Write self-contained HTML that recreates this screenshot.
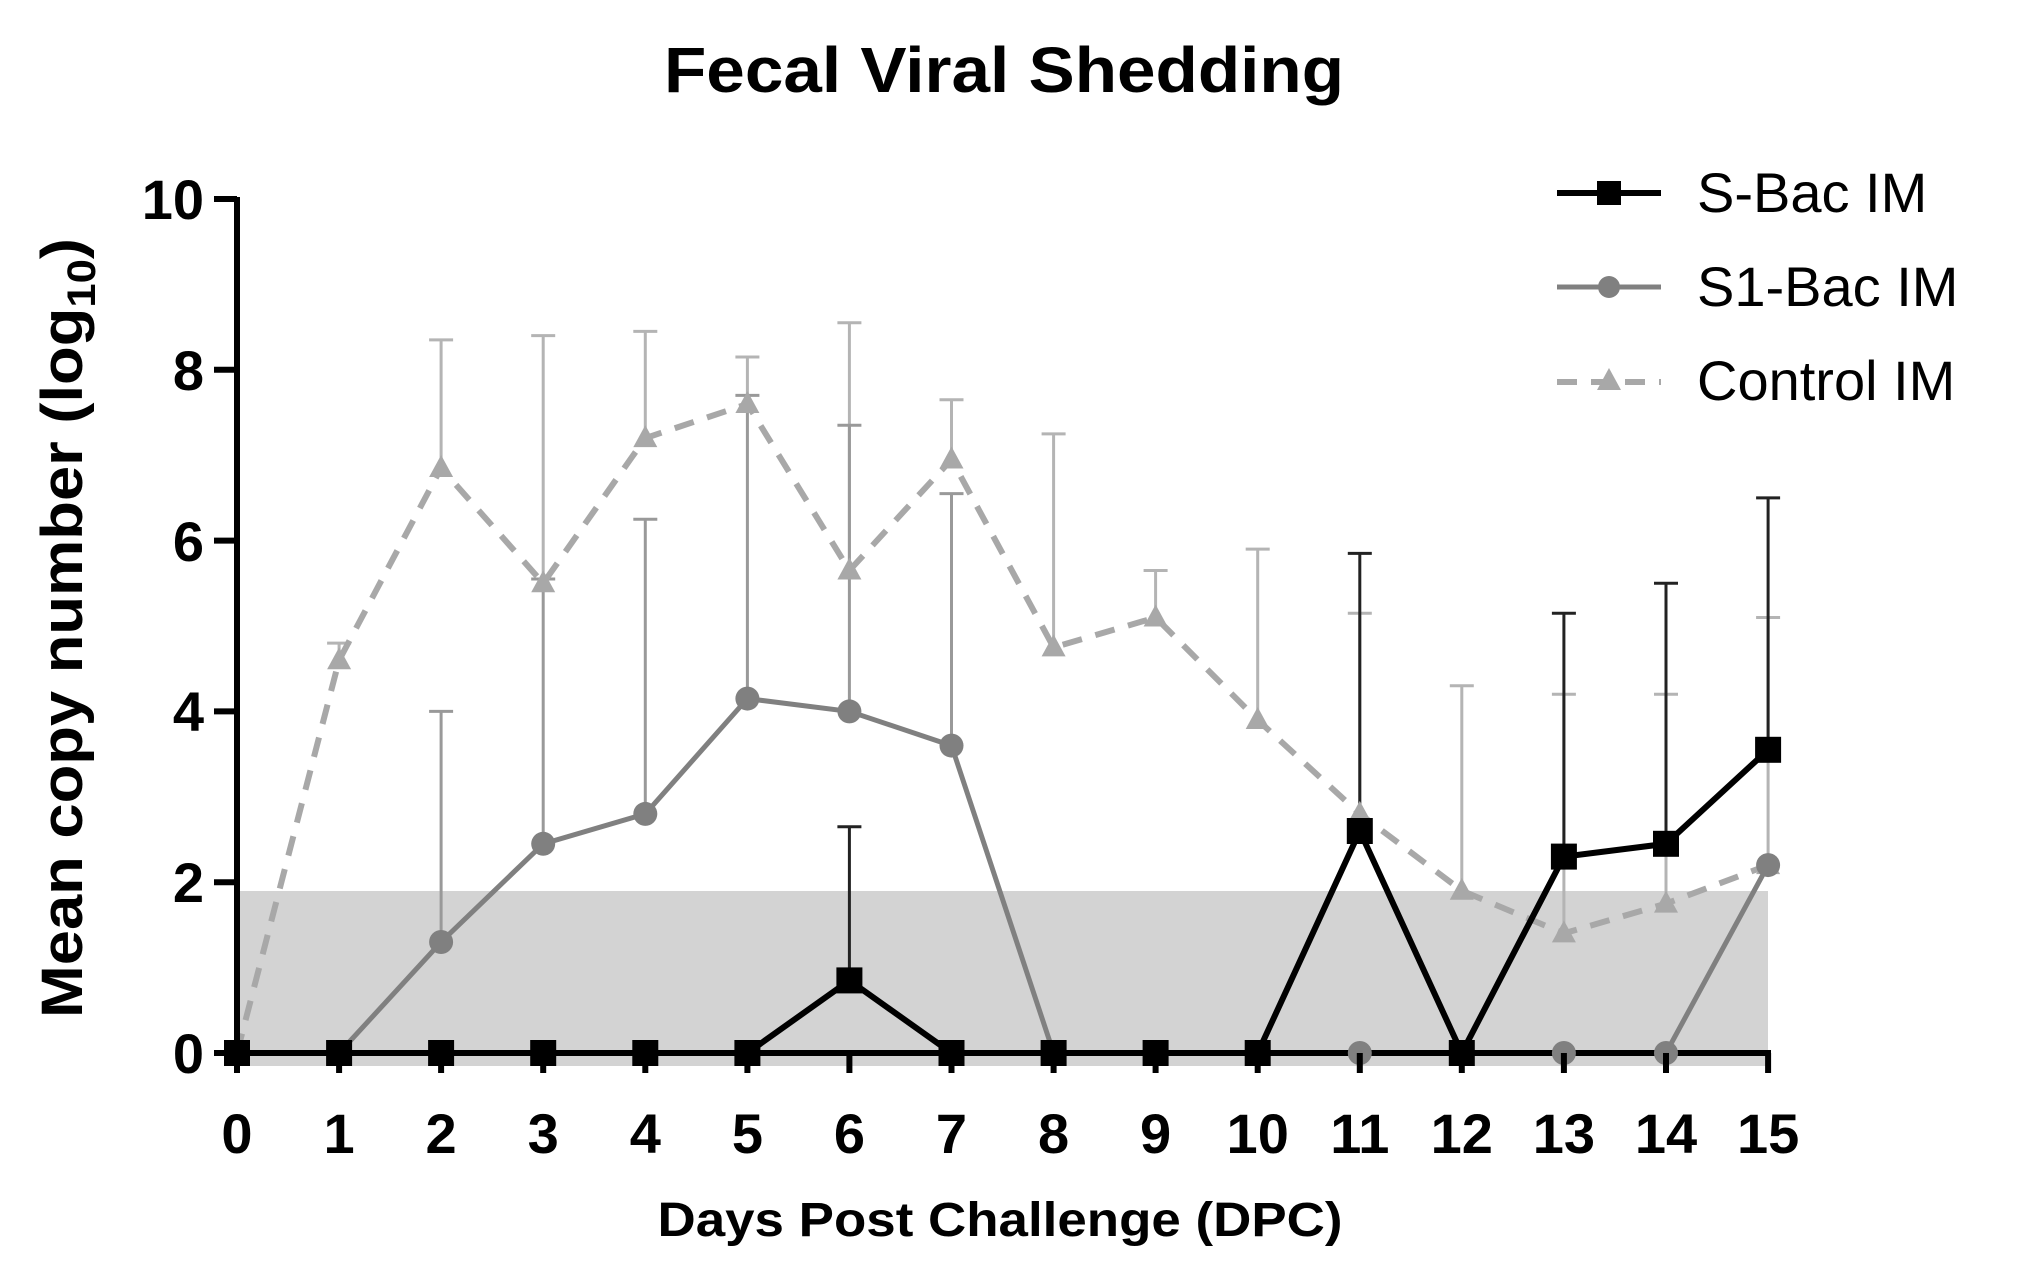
<!DOCTYPE html><html><head><style>body{margin:0;background:#fff}svg{display:block}</style></head><body>
<svg width="2040" height="1269" viewBox="0 0 2040 1269" xmlns="http://www.w3.org/2000/svg" font-family="Liberation Sans, sans-serif">
<rect width="2040" height="1269" fill="#fff"/>
<text x="1004" y="92" font-size="64" font-weight="bold" text-anchor="middle" textLength="680" lengthAdjust="spacingAndGlyphs">Fecal Viral Shedding</text>
<rect x="237" y="891" width="1531" height="175" fill="#d3d3d3"/>

<path fill="none" stroke="#b4b4b4" stroke-width="3" d="
M339.1,660.2V643.1M327.1,643.1H351.1
M441.1,468V339.9M429.1,339.9H453.1
M543.2,583.3V335.6M531.2,335.6H555.2
M645.3,438.1V331.4M633.3,331.4H657.3
M747.4,404V357M735.4,357H759.4
M849.4,570.5V322.8M837.4,322.8H861.4
M951.5,459.5V399.7M939.5,399.7H963.5
M1053.6,647.4V433.9M1041.6,433.9H1065.6
M1155.6,617.5V570.5M1143.6,570.5H1167.6
M1257.7,720V549.1M1245.7,549.1H1269.7
M1359.8,813.9V613.2M1347.8,613.2H1371.8
M1461.8,890.7V685.8M1449.8,685.8H1473.8
M1563.9,933.4V694.3M1551.9,694.3H1575.9
M1666,903.6V694.3M1654,694.3H1678
M1768.1,865.1V617.5M1756.1,617.5H1780.1"/>
<path fill="none" stroke="#999" stroke-width="3" d="
M441.1,942V711.4M429.1,711.4H453.1
M543.2,843.8V579M531.2,579H555.2
M645.3,813.9V519.3M633.3,519.3H657.3
M747.4,698.6V395.4M735.4,395.4H759.4
M849.4,711.4V425.3M837.4,425.3H861.4
M951.5,745.6V493.6M939.5,493.6H963.5"/>
<path fill="none" stroke="#222" stroke-width="3" d="
M849.4,980.4V826.7M837.4,826.7H861.4
M1359.8,831V553.4M1347.8,553.4H1371.8
M1563.9,856.6V613.2M1551.9,613.2H1575.9
M1666,843.8V583.3M1654,583.3H1678
M1768.1,749.8V497.9M1756.1,497.9H1780.1"/>

<polyline fill="none" stroke="#a8a8a8" stroke-width="6" stroke-dasharray="20,14" points="237,1053 339.1,660.2 441.1,468 543.2,583.3 645.3,438.1 747.4,404 849.4,570.5 951.5,459.5 1053.6,647.4 1155.6,617.5 1257.7,720 1359.8,813.9 1461.8,890.7 1563.9,933.4 1666,903.6 1768.1,865.1"/>
<g fill="#a8a8a8">
<polygon points="237,1040 225,1062 249,1062"/>
<polygon points="339.1,647.2 327.1,669.2 351.1,669.2"/>
<polygon points="441.1,455 429.1,477 453.1,477"/>
<polygon points="543.2,570.3 531.2,592.3 555.2,592.3"/>
<polygon points="645.3,425.1 633.3,447.1 657.3,447.1"/>
<polygon points="747.4,391 735.4,413 759.4,413"/>
<polygon points="849.4,557.5 837.4,579.5 861.4,579.5"/>
<polygon points="951.5,446.5 939.5,468.5 963.5,468.5"/>
<polygon points="1053.6,634.4 1041.6,656.4 1065.6,656.4"/>
<polygon points="1155.6,604.5 1143.6,626.5 1167.6,626.5"/>
<polygon points="1257.7,707 1245.7,729 1269.7,729"/>
<polygon points="1359.8,800.9 1347.8,822.9 1371.8,822.9"/>
<polygon points="1461.8,877.7 1449.8,899.7 1473.8,899.7"/>
<polygon points="1563.9,920.4 1551.9,942.4 1575.9,942.4"/>
<polygon points="1666,890.6 1654,912.6 1678,912.6"/>
<polygon points="1768.1,852.1 1756.1,874.1 1780.1,874.1"/>
</g>

<polyline fill="none" stroke="#808080" stroke-width="5" points="237,1053 339.1,1053 441.1,942 543.2,843.8 645.3,813.9 747.4,698.6 849.4,711.4 951.5,745.6 1053.6,1053 1666,1053 1768.1,865.1"/>
<g fill="#808080">
<circle cx="441.1" cy="942" r="12"/><circle cx="543.2" cy="843.8" r="12"/><circle cx="645.3" cy="813.9" r="12"/>
<circle cx="747.4" cy="698.6" r="12"/><circle cx="849.4" cy="711.4" r="12"/><circle cx="951.5" cy="745.6" r="12"/>
<circle cx="1768.1" cy="865.1" r="12"/>
</g>

<line x1="237" y1="197" x2="237" y2="1056" stroke="#000" stroke-width="6"/>
<line x1="234" y1="1053" x2="1771" y2="1053" stroke="#000" stroke-width="6"/>

<polyline fill="none" stroke="#000" stroke-width="6" points="237,1053 747.4,1053 849.4,980.4 951.5,1053 1257.7,1053 1359.8,831 1461.8,1053 1563.9,856.6 1666,843.8 1768.1,749.8"/>
<g fill="#000">
<rect x="224" y="1040" width="26" height="26"/><rect x="326.1" y="1040" width="26" height="26"/>
<rect x="428.1" y="1040" width="26" height="26"/><rect x="530.2" y="1040" width="26" height="26"/>
<rect x="632.3" y="1040" width="26" height="26"/><rect x="734.4" y="1040" width="26" height="26"/>
<rect x="836.4" y="967.4" width="26" height="26"/><rect x="938.5" y="1040" width="26" height="26"/>
<rect x="1040.6" y="1040" width="26" height="26"/><rect x="1142.6" y="1040" width="26" height="26"/>
<rect x="1244.7" y="1040" width="26" height="26"/><rect x="1346.8" y="818" width="26" height="26"/>
<rect x="1448.8" y="1040" width="26" height="26"/><rect x="1550.9" y="843.6" width="26" height="26"/>
<rect x="1653" y="830.8" width="26" height="26"/><rect x="1755.1" y="736.8" width="26" height="26"/>
</g>
<g fill="#808080"><circle cx="1359.8" cy="1053" r="12"/><circle cx="1563.9" cy="1053" r="12"/><circle cx="1666" cy="1053" r="12"/></g>

<path stroke="#000" stroke-width="6" fill="none" d="M214,1053H237M214,882.2H237M214,711.4H237M214,540.6H237M214,369.8H237M214,199H237
M237,1053V1073M339.1,1053V1073M441.1,1053V1073M543.2,1053V1073M645.3,1053V1073M747.4,1053V1073M849.4,1053V1073M951.5,1053V1073M1053.6,1053V1073M1155.6,1053V1073M1257.7,1053V1073M1359.8,1053V1073M1461.8,1053V1073M1563.9,1053V1073M1666,1053V1073M1768.1,1053V1073"/>
<g font-size="56" font-weight="bold" text-anchor="end">
<text x="204" y="1073">0</text><text x="204" y="902">2</text><text x="204" y="731">4</text>
<text x="204" y="561">6</text><text x="204" y="390">8</text><text x="204" y="219">10</text>
</g>
<g font-size="56" font-weight="bold" text-anchor="middle">
<text x="237" y="1153">0</text><text x="339.1" y="1153">1</text><text x="441.1" y="1153">2</text><text x="543.2" y="1153">3</text>
<text x="645.3" y="1153">4</text><text x="747.4" y="1153">5</text><text x="849.4" y="1153">6</text><text x="951.5" y="1153">7</text>
<text x="1053.6" y="1153">8</text><text x="1155.6" y="1153">9</text><text x="1257.7" y="1153">10</text><text x="1359.8" y="1153">11</text>
<text x="1461.8" y="1153">12</text><text x="1563.9" y="1153">13</text><text x="1666" y="1153">14</text><text x="1768.1" y="1153">15</text>
</g>

<text x="1000" y="1236" font-size="48" font-weight="bold" text-anchor="middle" textLength="685" lengthAdjust="spacingAndGlyphs">Days Post Challenge (DPC)</text>
<text transform="translate(82,628) rotate(-90)" font-size="58" font-weight="bold" text-anchor="middle" textLength="780" lengthAdjust="spacingAndGlyphs">Mean copy number (log<tspan font-size="40" dy="13">10</tspan><tspan dy="-13">)</tspan></text>

<line x1="1557" y1="193" x2="1661" y2="193" stroke="#000" stroke-width="6"/><rect x="1597" y="181" width="24" height="24" fill="#000"/>
<text x="1697" y="212" font-size="56">S-Bac IM</text>
<line x1="1557" y1="287" x2="1661" y2="287" stroke="#808080" stroke-width="5"/><circle cx="1609" cy="287" r="11" fill="#808080"/>
<text x="1697" y="306" font-size="56">S1-Bac IM</text>
<line x1="1557" y1="382" x2="1661" y2="382" stroke="#a8a8a8" stroke-width="6" stroke-dasharray="20,14"/><polygon points="1609,368 1597,390 1621,390" fill="#a8a8a8"/>
<text x="1697" y="400" font-size="56">Control IM</text>
</svg>
</body></html>
